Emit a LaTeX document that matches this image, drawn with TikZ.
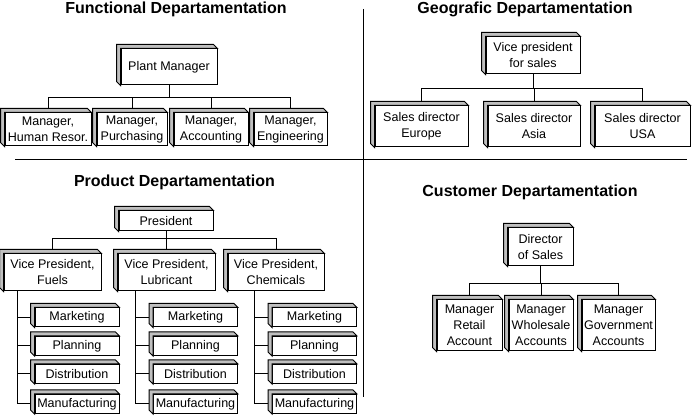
\documentclass[tikz,border=0pt]{standalone}
\usepackage{fontspec}
\setmainfont{Liberation Sans}
\usetikzlibrary{calc}
\definecolor{ShadeClr}{rgb}{0.75,0.75,0.75}

\begin{document}
\begin{tikzpicture}[x=0.75pt,y=-0.75pt,line width=0.75pt,
  box/.style={draw,fill=white,align=center,inner sep=0pt,font=\fontsize{9.4}{12}\selectfont},
  side/.style={draw,fill=ShadeClr,line join=miter},
  headline/.style={anchor=base,inner sep=0pt,font=\fontsize{12}{14}\selectfont\bfseries},
  mgr/.style={box,minimum height=24.75pt},
  geo/.style={box,minimum width=69.75pt,minimum height=30.75pt},
  vp/.style={box,minimum width=72.75pt,minimum height=27.75pt},
  item/.style={box,minimum width=63pt,minimum height=14.25pt},
  cust/.style={box,minimum height=38.25pt}]
\useasboundingbox (0,0) rectangle (693,416);

\draw (15,160) -- (687,160);
\draw (363,9) -- (363,397);

% functional
\node[headline] (tfun) at (176,14) {Functional Departamentation};
\node[box,minimum width=72pt,minimum height=27pt] (pm) at (169,67) {Plant Manager};
\coordinate (fbus) at (169,98);
\node[mgr,minimum width=64.5pt] (hr) at (48,129.5) {Manager,\\Human Resor.};
\node[mgr,minimum width=52.5pt] (pur) at (132,129.5) {Manager,\\Purchasing};
\node[mgr,minimum width=55.5pt] (acc) at (211,129.5) {Manager,\\Accounting};
\node[mgr,minimum width=54.75pt] (eng) at (290.5,129.5) {Manager,\\Engineering};

% geografic
\node[headline] (tgeo) at (525,13.5) {Geografic Departamentation};
\node[box,minimum width=70.5pt,minimum height=27.75pt] (vps) at (533,55.5) {Vice president\\for sales};
\coordinate (gbus) at (530,89);
\node[geo] (eu) at (421.5,126.5) {Sales director\\Europe};
\node[geo,minimum width=69pt] (asia) at (534,126.5) {Sales director\\Asia};
\node[geo,minimum width=71.25pt] (usa) at (642.5,126.5) {Sales director\\USA};

% product
\node[headline] (tpro) at (174.5,186.5) {Product Departamentation};
\node[box,minimum width=70.5pt,minimum height=15pt] (pres) at (166,221) {President};
\coordinate (pbus) at (164,239);
\node[vp] (fuel) at (52.5,272.5) {Vice President,\\Fuels};
\node[vp] (lub) at (166.5,272.5) {Vice President,\\Lubricant};
\node[vp,minimum width=72pt] (chem) at (276,272.5) {Vice President,\\Chemicals};
\foreach \p/\x in {f/77,l/195.5,c/314.5}{
  \node[item] (\p mk) at (\x,317.5) {Marketing};
  \node[item] (\p pl) at (\x,346) {Planning};
  \node[item] (\p di) at (\x,374) {Distribution};
  \node[item] (\p ma) at (\x,404) {Manufacturing};
}

% customer
\node[headline] (tcus) at (530,196.5) {Customer Departamentation};
\node[box,minimum width=48.75pt,minimum height=28.5pt] (dos) at (540.5,247) {Director\\of Sales};
\coordinate (cbus) at (540,284);
\node[cust,minimum width=48.75pt] (ret) at (469.5,325.5) {Manager\\Retail\\Account};
\node[cust,minimum width=48pt] (whs) at (541,325.5) {Manager\\Wholesale\\Accounts};
\node[cust,minimum width=54.75pt] (gov) at (618.5,325.5) {Manager\\Government\\Accounts};

% raised sides
\foreach \n in {pm,hr,pur,acc,eng,vps,eu,asia,usa,pres,fuel,lub,chem,
  fmk,fpl,fdi,fma,lmk,lpl,ldi,lma,cmk,cpl,cdi,cma,dos,ret,whs,gov}
  \draw[side] (\n.south west) -- ++(-3pt,3pt) |- ([shift={(-3pt,3pt)}]\n.north east)
    -- (\n.north east) -- (\n.north west) -- cycle;

% connectors
\foreach \c in {hr,pur,acc,eng}
  \draw (pm.south) |- (fbus -| \c) -- ([yshift=3pt]\c.north);
\foreach \c in {eu,asia,usa}
  \draw (vps.south) |- (gbus -| \c) -- ([yshift=3pt]\c.north);
\foreach \c in {fuel,lub,chem}
  \draw (pres.south) |- (pbus -| \c) -- ([yshift=3pt]\c.north);
\foreach \c in {ret,whs,gov}
  \draw (dos.south) |- (cbus -| \c) -- ([yshift=3pt]\c.north);

\foreach \p/\v in {f/fuel,l/lub,c/chem}{
  \coordinate (\p x) at ([xshift=-13pt]\p mk.west);
  \draw (\p x |- \v.south) |- ([xshift=-3pt]\p ma.west);
  \foreach \i in {mk,pl,di}
    \draw (\p x |- \p\i.west) -- ([xshift=-3pt]\p\i.west);
}

\end{tikzpicture}
\end{document}
